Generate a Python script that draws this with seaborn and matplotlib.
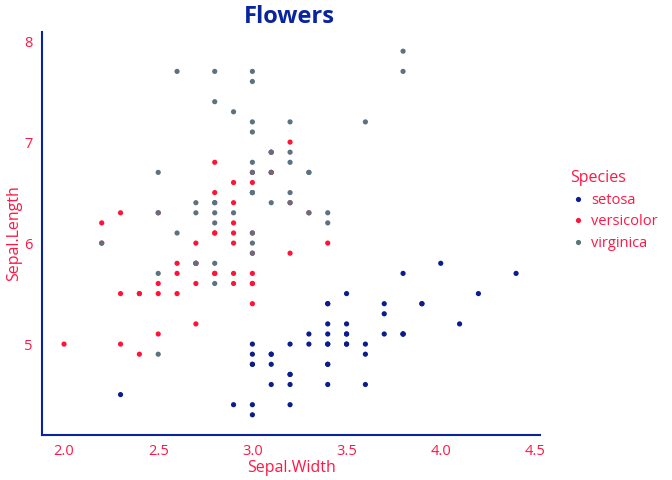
import matplotlib
matplotlib.use("Agg")
import matplotlib.pyplot as plt
import seaborn as sns
import pandas as pd

setosa_len = [5.1,4.9,4.7,4.6,5.0,5.4,4.6,5.0,4.4,4.9,5.4,4.8,4.8,4.3,5.8,5.7,5.4,5.1,5.7,5.1,5.4,5.1,4.6,5.1,4.8,5.0,5.0,5.2,5.2,4.7,4.8,5.4,5.2,5.5,4.9,5.0,5.5,4.9,4.4,5.1,5.0,4.5,4.4,5.0,5.1,4.8,5.1,4.6,5.3,5.0]
setosa_wid = [3.5,3.0,3.2,3.1,3.6,3.9,3.4,3.4,2.9,3.1,3.7,3.4,3.0,3.0,4.0,4.4,3.9,3.5,3.8,3.8,3.4,3.7,3.6,3.3,3.4,3.0,3.4,3.5,3.4,3.2,3.1,3.4,4.1,4.2,3.1,3.2,3.5,3.6,3.0,3.4,3.5,2.3,3.2,3.5,3.8,3.0,3.8,3.2,3.7,3.3]
versi_len = [7.0,6.4,6.9,5.5,6.5,5.7,6.3,4.9,6.6,5.2,5.0,5.9,6.0,6.1,5.6,6.7,5.6,5.8,6.2,5.6,5.9,6.1,6.3,6.1,6.4,6.6,6.8,6.7,6.0,5.7,5.5,5.5,5.8,6.0,5.4,6.0,6.7,6.3,5.6,5.5,5.5,6.1,5.8,5.0,5.6,5.7,5.7,6.2,5.1,5.7]
versi_wid = [3.2,3.2,3.1,2.3,2.8,2.8,3.3,2.4,2.9,2.7,2.0,3.0,2.2,2.9,2.9,3.1,3.0,2.7,2.2,2.5,3.2,2.8,2.5,2.8,2.9,3.0,2.8,3.0,2.9,2.6,2.4,2.4,2.7,2.7,3.0,3.4,3.1,2.3,3.0,2.5,2.6,3.0,2.6,2.3,2.7,3.0,2.9,2.9,2.5,2.8]
virg_len = [6.3,5.8,7.1,6.3,6.5,7.6,4.9,7.3,6.7,7.2,6.5,6.4,6.8,5.7,5.8,6.4,6.5,7.7,7.7,6.0,6.9,5.6,7.7,6.3,6.7,7.2,6.2,6.1,6.4,7.2,7.4,7.9,6.4,6.3,6.1,7.7,6.3,6.4,6.0,6.9,6.7,6.9,5.8,6.8,6.7,6.7,6.3,6.5,6.2,5.9]
virg_wid = [3.3,2.7,3.0,2.9,3.0,3.0,2.5,2.9,2.5,3.6,3.2,2.7,3.0,2.5,2.8,3.2,3.0,3.8,2.6,2.2,3.2,2.8,2.8,2.7,3.3,3.2,2.8,3.0,2.8,3.0,2.8,3.8,2.8,2.8,2.6,3.0,3.4,3.1,3.0,3.1,3.1,3.1,2.7,3.2,3.3,3.0,2.5,3.0,3.4,3.0]
species = ["setosa", "versicolor", "virginica"]
colors = ["#0a1d8f", "#ff1438", "#5d7280"]

df = pd.DataFrame({
    "Sepal.Width": setosa_wid + versi_wid + virg_wid,
    "Sepal.Length": setosa_len + versi_len + virg_len,
    "Species": ["setosa"]*50 + ["versicolor"]*50 + ["virginica"]*50,
})

sns.set_style("white")
plt.rcParams["font.family"] = ["Open Sans", "DejaVu Sans"]
red = "#ff1744"
blue = "#0a24a0"

fig = plt.figure(figsize=(6.72, 4.8), dpi=100)
ax = fig.add_axes([42/672, 45/480, 498/672, 403/480])
sns.scatterplot(data=df, x="Sepal.Width", y="Sepal.Length", hue="Species",
                hue_order=species, palette=colors, s=14, linewidth=0, ax=ax)
ax.set_xlim(1.883, 4.527)
ax.set_ylim(4.10, 8.09)
ax.set_xticks([2.0, 2.5, 3.0, 3.5, 4.0, 4.5])
ax.set_xticklabels(["2.0", "2.5", "3.0", "3.5", "4.0", "4.5"])
ax.set_yticks([5, 6, 7, 8])
for s in ["top", "right"]:
    ax.spines[s].set_visible(False)
for s in ["left", "bottom"]:
    ax.spines[s].set_color(blue)
    ax.spines[s].set_linewidth(1.5)
ax.tick_params(axis="both", colors=blue, labelcolor=red, labelsize=10.5, length=3, direction="out")
ax.set_xlabel("Sepal.Width", color=red, fontsize=11.5, labelpad=1)
ax.set_ylabel("Sepal.Length", color=red, fontsize=11.5, labelpad=2)
fig.text(289/672, 1 - 17/480, "Flowers", color=blue, fontsize=17, fontweight="bold",
         ha="center", va="center")
leg = ax.legend(title="Species", frameon=False, loc="upper left",
                bbox_to_anchor=(1.035, 0.69), fontsize=10.5, title_fontsize=11.5,
                handletextpad=0.4, handlelength=1.0, markerscale=1.0, alignment="left",
                labelspacing=0.45)
leg.get_title().set_color(red)
for t in leg.get_texts():
    t.set_color(red)
fig.savefig("out.png", dpi=100)
